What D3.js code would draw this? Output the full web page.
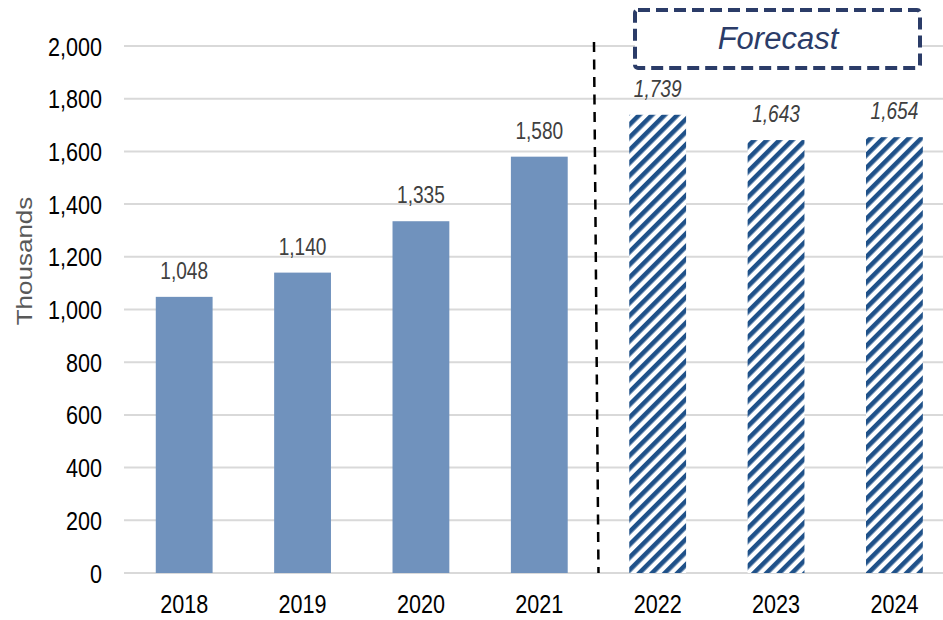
<!DOCTYPE html>
<html>
<head>
<meta charset="utf-8">
<script src="https://cdn.jsdelivr.net/npm/d3@7"></script>
<style>
  body { margin: 0; background: #fff; }
  text { font-family: "Liberation Sans", Arial, sans-serif; }
</style>
</head>
<body>
<div id="chart"></div>
<script>
// data
const years = ["2018", "2019", "2020", "2021", "2022", "2023", "2024"];
const values = [1048, 1140, 1335, 1580, 1739, 1643, 1654];
const forecast = [false, false, false, false, true, true, true];
const yTicks = [0, 200, 400, 600, 800, 1000, 1200, 1400, 1600, 1800, 2000];
const yTitle = "Thousands";
const boxLabel = "Forecast";

const W = 943, H = 620;
const sx = 0.83; // text is rendered narrow

const svg = d3.select('#chart').append('svg').attr("width", W).attr("height", H);

const defs = svg.append("defs");
const pat = defs.append("pattern")
  .attr("id", "hatch")
  .attr("patternUnits", "userSpaceOnUse")
  .attr("width", 9).attr("height", 9)
  .attr("patternTransform", "rotate(45)");
pat.append("rect").attr("width", 9).attr("height", 9).attr("fill", "#fff");
pat.append("rect").attr("width", 4.6).attr("height", 9).attr("fill", "#1f5189");

const x = d3.scaleBand()
  .domain(years)
  .range([125, 953.6])
  .paddingInner(0.52)
  .paddingOuter(0.26);

const y = d3.scaleLinear()
  .domain([0, 2000])
  .range([573, 46]);

// gridlines
svg.append("g").selectAll("line")
  .data(yTicks)
  .enter().append("line")
  .attr("x1", 124).attr("x2", W)
  .attr("y1", d => y(d)).attr("y2", d => y(d))
  .attr("stroke", "#d9d9d9")
  .attr("stroke-width", 2);

// y tick labels
const fmt = d3.format(",");
svg.append("g").selectAll("text")
  .data(yTicks)
  .enter().append("text")
  .attr("transform", d => `translate(102,${y(d) + 9.5}) scale(${sx},1)`)
  .attr("text-anchor", "end")
  .attr("font-size", 26)
  .attr("fill", "#000")
  .text(d => fmt(d));

// y title
svg.append("text")
  .attr("transform", `translate(32,${261}) scale(${sx},1) rotate(-90)`)
  .attr("text-anchor", "middle")
  .attr("font-size", 26)
  .attr("fill", "#595959")
  .text(yTitle);

// x labels
svg.append("g").selectAll("text")
  .data(years)
  .enter().append("text")
  .attr("transform", d => `translate(${x(d) + x.bandwidth() / 2},613) scale(${sx},1)`)
  .attr("text-anchor", "middle")
  .attr("font-size", 26)
  .attr("fill", "#000")
  .text(d => d);

const rows = years.map((yr, i) => ({ year: yr, value: values[i], fc: forecast[i] }));

// bars
svg.append("g").selectAll("rect")
  .data(rows)
  .enter().append("rect")
  .attr("x", d => x(d.year))
  .attr("width", x.bandwidth())
  .attr("y", d => y(d.value))
  .attr("height", d => y(0) - y(d.value))
  .attr("fill", d => d.fc ? "url(#hatch)" : "#7092bd");

// value labels
svg.append("g").selectAll("text")
  .data(rows)
  .enter().append("text")
  .attr("transform", d => `translate(${x(d.year) + x.bandwidth() / 2},${y(d.value) - 18}) scale(${sx},1)`)
  .attr("text-anchor", "middle")
  .attr("font-size", 23)
  .attr("font-style", d => d.fc ? "italic" : "normal")
  .attr("fill", "#404040")
  .text(d => fmt(d.value));

// divider between actual and forecast (drawn slightly slanted, as in the source)
const firstFc = years[forecast.indexOf(true)];
const divX = x(firstFc) - x.step() * x.paddingInner() / 2;
svg.append("line")
  .attr("x1", divX - 4.5).attr("x2", divX)
  .attr("y1", 42).attr("y2", y(0))
  .attr("stroke", "#000")
  .attr("stroke-width", 2.5)
  .attr("stroke-dasharray", "10,7.5");

// forecast box
svg.append("rect")
  .attr("x", 635).attr("y", 10)
  .attr("width", 285).attr("height", 58)
  .attr("rx", 3)
  .attr("fill", "#fff")
  .attr("stroke", "#2b3c68")
  .attr("stroke-width", 4)
  .attr("stroke-dasharray", "12,6");

svg.append("text")
  .attr("x", 778).attr("y", 49)
  .attr("text-anchor", "middle")
  .attr("font-size", 31)
  .attr("font-style", "italic")
  .attr("fill", "#2b3c68")
  .text(boxLabel);
</script>
</body>
</html>
